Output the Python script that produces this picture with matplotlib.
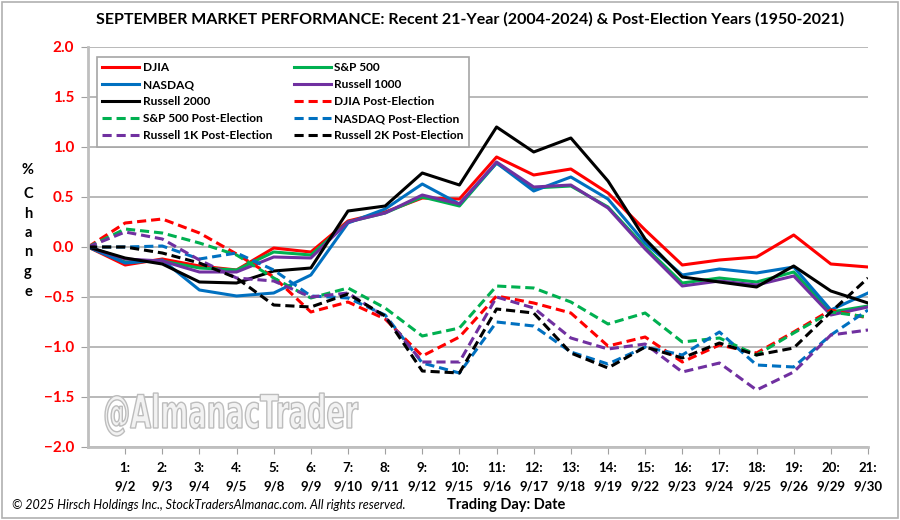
import matplotlib
matplotlib.use('Agg')
from matplotlib import pyplot as plt
from matplotlib.patches import Rectangle, PathPatch
from matplotlib.textpath import TextPath
from matplotlib.font_manager import FontProperties
from matplotlib.transforms import Affine2D, IdentityTransform
import numpy as np

plt.rcParams['font.family'] = ['Lato', 'DejaVu Sans']

# trading days (0 = start) and their dates
days = list(range(22))
dates = ['', '9/2', '9/3', '9/4', '9/5', '9/8', '9/9', '9/10', '9/11', '9/12',
         '9/15', '9/16', '9/17', '9/18', '9/19', '9/22', '9/23', '9/24',
         '9/25', '9/26', '9/29', '9/30']

# recent 21-year averages (2004-2024), % change
djia = [0, -0.18, -0.12, -0.19, -0.23, -0.01, -0.05, 0.26, 0.35, 0.49, 0.48,
        0.90, 0.72, 0.78, 0.54, 0.17, -0.18, -0.13, -0.10, 0.12, -0.17, -0.20]
sp500 = [0, -0.15, -0.14, -0.21, -0.23, -0.05, -0.08, 0.25, 0.34, 0.50, 0.41,
         0.84, 0.59, 0.61, 0.40, 0.00, -0.36, -0.31, -0.35, -0.25, -0.65, -0.59]
nasdaq = [0, -0.16, -0.13, -0.43, -0.49, -0.46, -0.28, 0.24, 0.38, 0.63, 0.43,
          0.84, 0.56, 0.70, 0.48, 0.04, -0.28, -0.22, -0.26, -0.20, -0.63, -0.46]
r1000 = [0, -0.12, -0.14, -0.25, -0.25, -0.10, -0.11, 0.25, 0.34, 0.52, 0.43,
         0.85, 0.60, 0.62, 0.39, -0.02, -0.39, -0.34, -0.38, -0.29, -0.68, -0.60]
r2000 = [0, -0.11, -0.17, -0.35, -0.36, -0.24, -0.21, 0.36, 0.41, 0.74, 0.62,
         1.20, 0.95, 1.09, 0.66, 0.08, -0.30, -0.35, -0.40, -0.19, -0.44, -0.56]

# post-election years (1950-2021), % change
djia_pe = [0, 0.24, 0.28, 0.14, -0.07, -0.30, -0.65, -0.55, -0.72, -1.09, -0.90,
           -0.49, -0.56, -0.66, -0.99, -0.90, -1.15, -0.98, -1.06, -0.85, -0.63, -0.71]
sp500_pe = [0, 0.18, 0.14, 0.04, -0.08, -0.31, -0.51, -0.41, -0.61, -0.89, -0.81,
            -0.39, -0.41, -0.55, -0.77, -0.66, -0.95, -0.91, -1.08, -0.86, -0.65, -0.70]
nasdaq_pe = [0, 0.00, 0.01, -0.12, -0.06, -0.23, -0.49, -0.51, -0.68, -1.16, -1.26,
             -0.75, -0.79, -1.05, -1.17, -1.00, -1.08, -0.85, -1.18, -1.20, -0.88, -0.63]
r1k_pe = [0, 0.15, 0.08, -0.13, -0.31, -0.34, -0.50, -0.46, -0.70, -1.15, -1.15,
          -0.50, -0.61, -0.91, -1.02, -0.97, -1.25, -1.16, -1.43, -1.25, -0.88, -0.83]
r2k_pe = [0, 0.00, -0.06, -0.16, -0.31, -0.58, -0.60, -0.47, -0.69, -1.24, -1.26,
          -0.62, -0.66, -1.06, -1.21, -1.00, -1.11, -0.96, -1.08, -1.01, -0.65, -0.31]

series = [
    ('DJIA', djia, '#ff0000', '-'),
    ('S&P 500', sp500, '#00b050', '-'),
    ('NASDAQ', nasdaq, '#0070c0', '-'),
    ('Russell 1000', r1000, '#7030a0', '-'),
    ('Russell 2000', r2000, '#000000', '-'),
    ('DJIA Post-Election', djia_pe, '#ff0000', '--'),
    ('S&P 500 Post-Election', sp500_pe, '#00b050', '--'),
    ('NASDAQ Post-Election', nasdaq_pe, '#0070c0', '--'),
    ('Russell 1K Post-Election', r1k_pe, '#7030a0', '--'),
    ('Russell 2K Post-Election', r2k_pe, '#000000', '--'),
]

fig = plt.figure(figsize=(9, 5.2), dpi=100)
ax = fig.add_axes([88/900, 73/520, 780/900, 400/520])

# watermark: narrow outlined text, squeezed to the original's width
tp = TextPath((0, 0), '@AlmanacTrader', size=46,
              prop=FontProperties(family='DejaVu Sans', weight='bold'))
ext = tp.get_extents()
sx = 253 / ext.width
wm = PathPatch(tp, transform=Affine2D().translate(-ext.x0, 0).scale(sx, 1)
               .translate(105, 520 - 428) + IdentityTransform(),
               facecolor='#f2f2f2', edgecolor='#bdbdbd', lw=1.0, zorder=0.5)
fig.patches.append(wm)

handles = []
for name, vals, col, ls in series:
    if ls == '--':
        ln, = ax.plot(days, vals, color=col, lw=2.2, dashes=(3, 1.6), label=name)
    else:
        ln, = ax.plot(days, vals, color=col, lw=2.2, label=name)
    handles.append(ln)

ax.set_xlim(0, 21)
ax.set_ylim(-2, 2)
ax.set_yticks(np.arange(-2, 2.01, 0.5))
ax.set_yticklabels([('%.1f' % v).replace('-', '\u2212') for v in np.arange(-2, 2.01, 0.5)],
                   color='red', fontweight='bold', fontsize=11)
ax.set_xticks(days[1:])
ax.set_xticklabels(['%d:\n%s' % (d, dates[d]) for d in days[1:]],
                   fontweight='bold', fontsize=9.5, linespacing=1.6)
ax.tick_params(axis='x', length=5, color='#a0a0a0', pad=6)
ax.tick_params(axis='y', length=5, color='#a0a0a0', pad=5)
ax.grid(axis='y', color='#a6a6a6', lw=1.1)
ax.set_axisbelow(True)
ax.patch.set_alpha(0)
for s in ['top', 'right']:
    ax.spines[s].set_visible(False)
for s in ['left', 'bottom']:
    ax.spines[s].set_color('#bfbfbf')
    ax.spines[s].set_linewidth(2)

# legend filled row by row like the original
order = [0, 2, 4, 6, 8, 1, 3, 5, 7, 9]
leg = ax.legend([handles[i] for i in order], [series[i][0] for i in order],
                ncol=2, loc='upper left', bbox_to_anchor=(0.0115, 0.975),
                borderaxespad=0, fancybox=False, edgecolor='#a6a6a6',
                prop={'weight': 'bold', 'size': 8.6}, handlelength=3.1,
                handletextpad=0.3, labelspacing=0.5, columnspacing=1.8,
                borderpad=0.45, framealpha=1)
leg.get_frame().set_linewidth(1.2)

fig.text(0.522, 0.962, 'SEPTEMBER MARKET PERFORMANCE: Recent 21-Year (2004-2024) & '
         'Post-Election Years (1950-2021)', ha='center', va='center',
         fontsize=11.5, fontweight='bold')

# stacked y label
fig.text(28/900, 1 - 170/520, '%', ha='center', va='center', fontsize=10.5,
         fontweight='bold')
for i, ch in enumerate('Change'):
    fig.text(28/900, 1 - (194 + i*19.5)/520, ch, ha='center', va='center',
             fontsize=10.5, fontweight='bold')

fig.text(12/900, 1 - 505/520, '\u00a9 2025 Hirsch Holdings Inc., StockTradersAlmanac.com. '
         'All rights reserved.', ha='left', va='center', fontsize=9,
         style='italic')
fig.text(447/900, 1 - 505/520, 'Trading Day: Date', ha='left', va='center',
         fontsize=10.5, fontweight='bold')

fig.patches.append(Rectangle((0.002, 0.003), 0.996, 0.994, transform=fig.transFigure,
                             fill=False, edgecolor='#b0b0b0', lw=1.2))

fig.savefig('out.png', dpi=100)
